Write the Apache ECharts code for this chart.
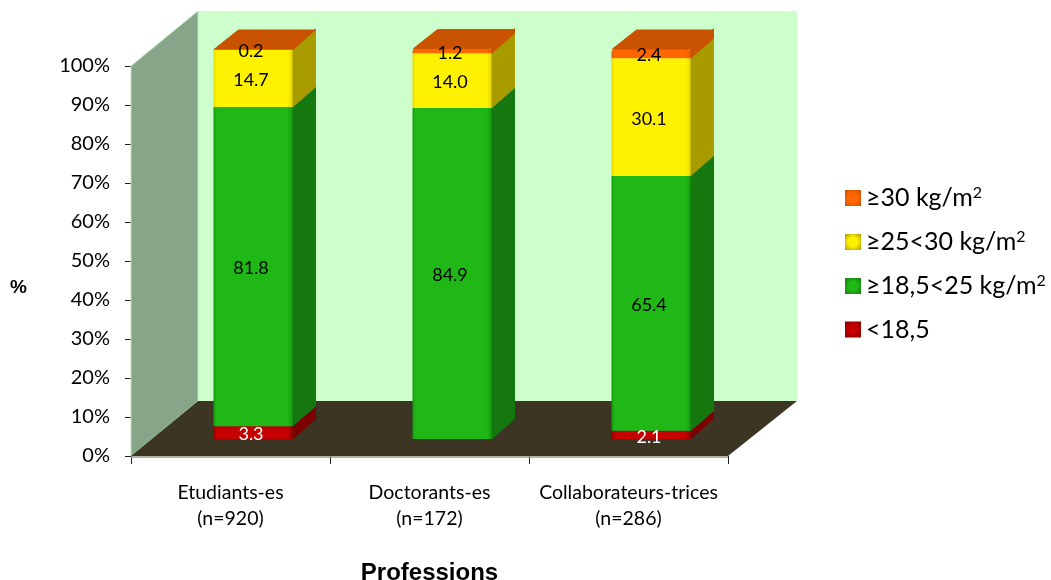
<!DOCTYPE html>
<html>
<head>
<meta charset="utf-8">
<style>html,body{margin:0;padding:0;background:#fff}#chart{width:1051px;height:580px}</style>
<script src="https://cdn.jsdelivr.net/npm/echarts@6/dist/echarts.min.js"></script>
</head>
<body>
<div id="chart"></div>
<script>
// Body-mass categories by profession, as stacked percentages
const categories = ['Etudiants-es\n(n=920)', 'Doctorants-es\n(n=172)', 'Collaborateurs-trices\n(n=286)'];
const valueTicks = [0, 100, 10];
const underweight = [3.3, null, 2.1];
const normalWeight = [81.8, 84.9, 65.4];
const overweight = [14.7, 14.0, 30.1];
const obese = [0.2, 1.2, 2.4];
const seriesNames = ['<18,5', '≥18,5<25 kg/m²', '≥25<30 kg/m²', '≥30 kg/m²'];

// Pseudo-3D projection, in pixels
const WALL_DX_LEFT = 67, WALL_DX_RIGHT = 69, WALL_DY = -55;
const BAR_SHIFT_X = 22.5, BAR_SHIFT_Y = -17, BAR_WIDTH = 79, BAR_DX = 23, BAR_DY = -20;

const palette = [
  { front: '#c40000', edge: '#8f0000', side: '#7d0000', top: '#8a0000', label: '#ffffff' },
  { front: '#1fb816', edge: '#179a10', side: '#14780f', top: '#14780f', label: '#000000' },
  { front: '#fff200', edge: '#e6d800', side: '#a89b00', top: '#a89b00', label: '#000000' },
  { front: '#ff6600', edge: '#e05a00', side: '#c85200', top: '#c85200', label: '#000000' }
];

function poly(points, fill, z2) {
  return {
    type: 'polygon', z2: z2 || 0, shape: { points: points },
    style: { fill: fill, stroke: fill, lineWidth: 1, lineJoin: 'round' }
  };
}

// Floor and the two walls of the chart box
function renderRoom(params, api) {
  const half = api.size([1, 0])[0] / 2;
  const o = api.coord([0, 0]);
  const t = api.coord([0, 100]);
  const r = api.coord([categories.length - 1, 0]);
  const x0 = o[0] - half, x1 = r[0] + half, y0 = o[1], y1 = t[1];
  const edge = { stroke: '#b8e8b8', lineWidth: 1 };
  return {
    type: 'group',
    children: [
      { type: 'polygon', shape: { points: [[x0 + WALL_DX_LEFT, y1 + WALL_DY], [x1 + WALL_DX_RIGHT, y1 + WALL_DY], [x1 + WALL_DX_RIGHT, y0 + WALL_DY], [x0 + WALL_DX_LEFT, y0 + WALL_DY]] }, style: { fill: '#ccffcc' } },
      { type: 'polygon', shape: { points: [[x0, y0], [x0 + WALL_DX_LEFT, y0 + WALL_DY], [x0 + WALL_DX_LEFT, y1 + WALL_DY], [x0, y1]] }, style: Object.assign({ fill: '#87a588' }, edge) },
      { type: 'polygon', shape: { points: [[x0, y0], [x1, y0], [x1 + WALL_DX_RIGHT, y0 + WALL_DY], [x0 + WALL_DX_LEFT, y0 + WALL_DY]] }, style: { fill: '#3d3524' } },
      { type: 'line', shape: { x1: x0, y1: y0 + 1, x2: x1, y2: y0 + 1 }, style: { stroke: '#9a9688', lineWidth: 1.5 } }
    ]
  };
}

// One stacked segment: front face, side face, optional cap and its value label
function renderSegment(stackIndex, params, api) {
  const colors = palette[stackIndex];
  const cat = api.value(0);
  const low = api.coord([cat, api.value(1)]);
  const high = api.coord([cat, api.value(2)]);
  const xl = low[0] + BAR_SHIFT_X - BAR_WIDTH / 2;
  const xr = xl + BAR_WIDTH;
  const yb = low[1] + BAR_SHIFT_Y;
  const yt = high[1] + BAR_SHIFT_Y;
  const frontFill = new echarts.graphic.LinearGradient(0, 0, 1, 0, [
    { offset: 0, color: colors.edge },
    { offset: 0.04, color: colors.front },
    { offset: 0.94, color: colors.front },
    { offset: 1, color: colors.edge }
  ]);
  const children = [
    poly([[xr, yb], [xr + BAR_DX, yb + BAR_DY], [xr + BAR_DX, yt + BAR_DY], [xr, yt]], colors.side),
    { type: 'rect', shape: { x: xl, y: yt, width: BAR_WIDTH, height: yb - yt, r: stackIndex === palette.length - 1 ? [4, 4, 0, 0] : 0 }, style: { fill: frontFill } }
  ];
  if (stackIndex === palette.length - 1) {
    children.push(poly([[xl + 1, yt], [xr, yt], [xr + BAR_DX - 1, yt + BAR_DY + 1], [xl + BAR_DX + 2, yt + BAR_DY + 1]], colors.top));
  }
  children.push({
    type: 'text', z2: 10,
    style: {
      x: xl + BAR_WIDTH / 2 - 2, y: (yt + yb) / 2 + 2,
      text: api.value(3).toFixed(1),
      font: '18px Lato', fill: colors.label, align: 'center', verticalAlign: 'middle'
    }
  });
  return { type: 'group', children: children };
}

// Accumulate the stack so every segment knows where it starts and ends
const stacks = [underweight, normalWeight, overweight, obese];
const running = categories.map(() => 0);
const segmentSeries = stacks.map((values, s) => ({
  type: 'custom',
  name: seriesNames[s],
  silent: true,
  coordinateSystem: 'cartesian2d',
  itemStyle: { color: palette[s].front },
  encode: { x: 0, y: 2 },
  renderItem: renderSegment.bind(null, s),
  data: values.map((v, i) => {
    const start = running[i];
    if (v === null) return null;
    running[i] += v;
    return [i, start, running[i], v];
  }).filter(Boolean)
}));

function legendIcon(s) {
  return {
    name: seriesNames[s],
    itemStyle: {
      color: new echarts.graphic.RadialGradient(0.5, 0.5, 0.7, [
        { offset: 0, color: palette[s].front },
        { offset: 0.4, color: palette[s].front },
        { offset: 1, color: palette[s].side }
      ])
    }
  };
}

const chart = echarts.init(document.getElementById('chart'), null, { renderer: 'canvas' });
chart.setOption({
  animation: false,
  backgroundColor: '#ffffff',
  textStyle: { fontFamily: 'Lato' },
  grid: { left: 131, top: 66, width: 597, height: 390, outerBoundsMode: 'none' },
  legend: {
    orient: 'vertical', left: 840, top: 180,
    itemWidth: 16, itemHeight: 16, itemGap: 18, icon: 'rect',
    selectedMode: false,
    data: [legendIcon(3), legendIcon(2), legendIcon(1), legendIcon(0)],
    formatter: name => {
      const parts = name.split('²');
      return parts.length > 1 ? '{b|' + parts[0] + '}{s|2}' : '{b|' + name + '}';
    },
    textStyle: {
      rich: {
        b: { fontFamily: 'Lato', fontSize: 25, color: '#000', lineHeight: 30 },
        s: { fontFamily: 'Lato', fontSize: 16, color: '#000', lineHeight: 30, padding: [0, 0, 10, 0] }
      }
    }
  },
  xAxis: {
    type: 'category',
    data: categories,
    name: 'Professions',
    nameLocation: 'middle',
    nameGap: 105,
    nameTextStyle: { fontFamily: 'Liberation Sans', fontWeight: 'bold', fontSize: 24, color: '#000' },
    axisTick: { show: true, length: 8, alignWithLabel: false, lineStyle: { color: '#222' } },
    axisLine: { show: false },
    axisLabel: { color: '#000', fontFamily: 'Lato', fontSize: 19.5, lineHeight: 26, margin: 24, interval: 0 }
  },
  yAxis: {
    type: 'value',
    min: valueTicks[0], max: valueTicks[1], interval: valueTicks[2],
    name: '%',
    nameLocation: 'middle',
    nameRotate: 0,
    nameGap: 104,
    nameTextStyle: { fontFamily: 'Liberation Sans', fontWeight: 'bold', fontSize: 19, color: '#000', verticalAlign: 'top', padding: [17, 0, 0, 0] },
    splitLine: { show: false },
    axisLine: { show: true, lineStyle: { color: '#222' } },
    axisTick: { show: true, length: 6, lineStyle: { color: '#222' } },
    axisLabel: { color: '#000', fontFamily: 'Lato', fontSize: 20, formatter: '{value}%', margin: 21, padding: [5, 0, 0, 0] }
  },
  series: [
    { type: 'custom', silent: true, renderItem: renderRoom, data: [[0, 0]], encode: { x: 0, y: 1 } }
  ].concat(segmentSeries)
});
</script>
</body>
</html>
